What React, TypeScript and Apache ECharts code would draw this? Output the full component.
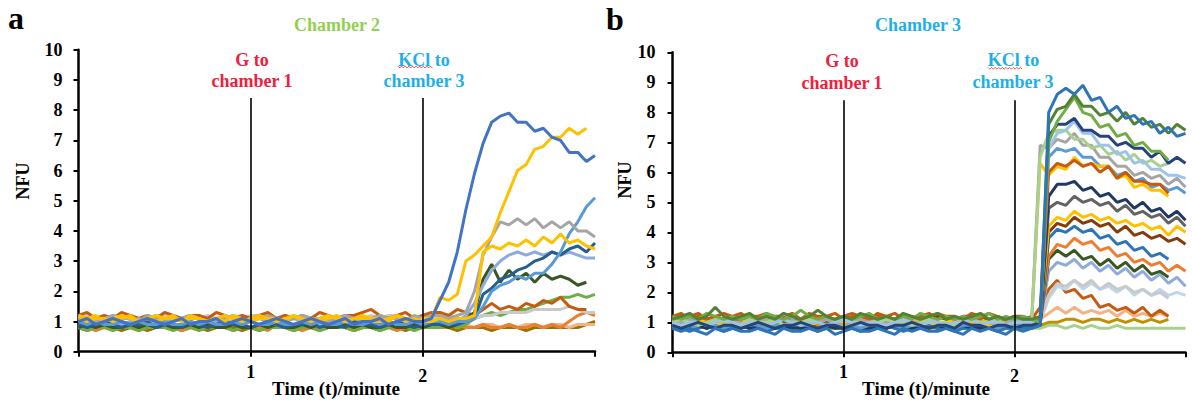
import React, { useEffect, useRef } from 'react';
import * as echarts from 'echarts';

// ---------- shared time axis (minutes) ----------
const TIME = [
  0, 0.05, 0.1, 0.15, 0.2, 0.25, 0.3, 0.35, 0.4, 0.45, 0.5, 0.55, 0.6, 0.65, 0.7, 0.75, 0.8, 0.85, 0.9, 0.95,
  1, 1.05, 1.1, 1.15, 1.2, 1.25, 1.3, 1.35, 1.4, 1.45, 1.5, 1.55, 1.6, 1.65, 1.7, 1.75, 1.8, 1.85, 1.9, 1.95,
  2, 2.05, 2.1, 2.15, 2.2, 2.25, 2.3, 2.35, 2.4, 2.45, 2.5, 2.55, 2.6, 2.65, 2.7, 2.75, 2.8, 2.85, 2.9, 2.95, 3,
];

const X_TICK_LABELS = [1, 2];
const EVENT_TIMES = [1, 2];
const EVENT_LINE_TOP = 8.4;

// ---------- Panel a : Chamber 2 ----------
const A_DKYELLOW = [
  0.8,0.7,0.8,0.8,0.8,0.7,0.8,0.8,0.7,0.8, 0.8,0.8,0.7,0.8,0.8,0.7,0.8,0.8,0.8,0.7,
  0.8,0.7,0.8,0.8,0.8,0.7,0.8,0.8,0.7,0.8, 0.8,0.8,0.7,0.8,0.8,0.7,0.8,0.8,0.7,0.8, 0.8,0.8,
  0.8,0.8,0.7,0.8,0.8,0.8,0.7,0.8,0.8,0.8, 0.7,0.8,0.8,0.8,0.8,0.8,0.8,0.9,1.0,
];
const A_PEACH = [
  0.9,0.8,0.9,0.9,0.8,0.9,0.8,0.9,0.9,0.8, 0.9,0.9,0.8,0.9,0.8,0.9,0.9,0.8,0.9,0.9,
  0.8,0.9,0.8,0.9,0.9,0.8,0.9,0.9,0.8,0.9, 0.8,0.9,0.9,0.8,0.9,0.9,0.8,0.9,0.8,0.9, 0.9,0.8,
  0.9,0.8,0.9,0.9,0.8,0.9,0.9,0.8,0.9,0.8, 0.9,0.9,0.8,0.9,0.9,0.8,0.9,0.9,0.9,
];
const A_ORANGE = [
  0.8,0.8,0.7,0.8,0.9,0.8,0.8,0.7,0.8,0.8, 0.9,0.8,0.7,0.8,0.8,0.8,0.9,0.8,0.7,0.8,
  0.8,0.8,0.7,0.9,0.8,0.8,0.7,0.8,0.8,0.9, 0.8,0.8,0.7,0.8,0.8,0.9,0.8,0.7,0.8,0.8, 0.8,0.8,
  0.8,0.8,0.9,0.8,0.8,0.9,0.8,0.8,0.9,0.8, 0.8,0.9,0.8,0.9,0.8,1.0,1.2,1.3,1.2,
];
const A_GREEN = [
  0.8,0.7,0.8,0.8,0.7,0.8,0.8,0.7,0.8,0.8, 0.8,0.7,0.8,0.8,0.7,0.8,0.8,0.8,0.7,0.8,
  0.8,0.7,0.8,0.8,0.8,0.7,0.8,0.8,0.7,0.8, 0.8,0.8,0.7,0.8,0.8,0.7,0.8,0.8,0.8,0.7, 0.8,0.8,
  0.8,0.9,0.8,0.9,1.1,1.2,1.3,1.2,1.3,1.4, 1.4,1.5,1.6,1.7,1.8,1.8,1.9,1.8,1.9,
];
const A_LTGRAY = [
  1.1,1.2,1.1,1.1,1.2,1.1,1.2,1.1,1.1,1.2, 1.2,1.1,1.1,1.2,1.1,1.2,1.1,1.1,1.2,1.1,
  1.2,1.2,1.1,1.1,1.2,1.1,1.2,1.1,1.1,1.2, 1.1,1.2,1.1,1.1,1.2,1.1,1.2,1.2,1.1,1.1, 1.2,1.1,
  1.1,1.2,1.1,1.1,1.1,1.2,1.2,1.3,1.3,1.3, 1.3,1.4,1.4,1.4,1.4,1.5,1.4,1.3,1.3,
];
const A_BROWN = [
  1.2,1.3,1.1,1.2,1.1,1.3,1.2,1.1,1.2,1.1, 1.3,1.2,1.1,1.2,1.2,1.1,1.3,1.2,1.1,1.2,
  1.1,1.2,1.3,1.1,1.2,1.1,1.2,1.1,1.3,1.2, 1.1,1.2,1.2,1.3,1.4,1.2,1.1,1.2,1.3,1.1, 1.2,1.3,
  1.3,1.2,1.4,1.3,1.2,1.4,1.6,1.4,1.5,1.4, 1.6,1.5,1.7,1.6,1.8,1.5,1.4,1.4,
];
const A_DKGREEN = [
  0.8,0.9,0.8,0.9,0.8,0.8,0.9,0.8,0.9,0.8, 0.9,0.8,0.8,0.9,0.8,0.9,0.8,0.8,0.9,0.8,
  0.8,0.9,0.8,0.9,0.8,0.8,0.9,0.8,0.9,0.8, 0.8,0.9,0.8,0.9,0.8,0.8,0.9,0.8,0.8,0.9, 0.8,0.9,
  0.9,0.8,0.9,1.1,1.3,2.4,2.9,2.3,2.7,2.4, 2.6,2.3,2.6,2.4,2.5,2.4,2.2,2.3,
];
const A_PERIWINKLE = [
  1.0,1.0,0.9,1.1,1.0,0.9,1.0,1.1,1.0,1.0, 0.9,1.0,1.1,1.0,0.9,1.0,1.0,1.1,0.9,1.0,
  1.0,1.1,1.0,0.9,1.0,1.1,1.0,1.0,0.9,1.0, 1.1,1.0,0.9,1.0,1.0,1.1,1.0,0.9,1.0,1.1, 1.0,1.0,
  1.0,1.1,1.0,1.2,1.6,2.2,2.7,3.0,3.2,3.3, 3.2,3.3,3.2,3.3,3.2,3.3,3.2,3.1,3.1,
];
const A_DKBLUE = [
  0.9,0.8,0.9,1.0,0.9,0.8,0.9,0.9,1.0,0.8, 0.9,0.9,0.8,1.0,0.9,0.8,0.9,1.0,0.9,0.9,
  0.8,0.9,1.0,0.9,0.8,0.9,0.9,1.0,0.8,0.9, 0.9,0.8,1.0,0.9,0.9,0.8,0.9,1.0,0.9,0.8, 0.9,0.9,
  0.9,1.0,0.9,1.0,1.1,1.9,2.1,2.4,2.5,2.7, 2.8,3.0,3.1,3.3,3.2,3.4,3.5,3.3,3.6,
];
const A_LTBLUE = [
  1.0,0.9,1.0,0.9,0.9,1.0,0.9,1.0,0.9,0.9, 1.0,0.9,0.9,1.0,0.9,1.0,0.9,0.9,1.0,0.9,
  1.0,0.9,0.9,1.0,0.9,0.9,1.0,0.9,1.0,0.9, 0.9,1.0,0.9,0.9,1.0,0.9,1.0,0.9,0.9,1.0, 0.9,1.0,
  1.0,0.9,1.0,1.0,1.1,1.5,2.0,2.2,2.3,2.5, 2.4,2.6,2.6,2.9,3.3,3.9,4.3,4.8,5.1,
];
const A_GRAY = [
  1.2,1.1,1.0,1.1,1.2,1.1,1.1,1.0,1.2,1.1, 1.1,1.0,1.1,1.2,1.1,1.0,1.1,1.1,1.2,1.0,
  1.1,1.1,1.2,1.1,1.0,1.1,1.2,1.1,1.1,1.0, 1.1,1.2,1.1,1.0,1.1,1.2,1.1,1.1,1.0,1.2, 1.1,1.2,
  1.2,1.1,1.2,1.3,2.0,3.2,3.8,4.3,4.2,4.4, 4.2,4.4,4.1,4.3,4.1,4.3,4.0,4.0,3.8,
];
const A_YELLOW_B = [
  1.1,1.0,1.1,1.1,1.0,1.1,1.2,1.0,1.1,1.0, 1.1,1.2,1.0,1.1,1.1,1.0,1.1,1.0,1.2,1.1,
  1.0,1.1,1.1,1.0,1.1,1.2,1.0,1.1,1.0,1.1, 1.2,1.0,1.1,1.1,1.0,1.0,1.1,1.2,1.0,1.1, 1.0,1.0,
  1.1,1.0,1.1,1.1,1.2,3.3,3.5,3.4,3.6,3.5, 3.7,3.5,3.8,3.6,3.9,3.6,3.7,3.5,3.4,
];
const A_YELLOW_A = [
  1.2,1.1,1.2,1.0,1.1,1.2,1.1,1.0,1.1,1.2, 1.1,1.1,1.0,1.2,1.1,1.0,1.1,1.2,1.1,1.0,
  1.1,1.2,1.1,1.1,1.0,1.2,1.1,1.0,1.1,1.2, 1.1,1.0,1.1,1.2,1.1,1.1,1.0,1.2,1.1,1.0, 1.1,1.1,
  1.8,1.7,1.9,3.0,3.2,3.5,3.8,4.6,5.3,6.0, 6.2,6.7,6.8,7.1,7.1,7.4,7.2,7.4,
];
const A_BLUE = [
  1.0,1.1,0.9,1.0,1.1,1.0,0.9,1.0,1.1,1.0, 0.9,1.0,1.1,0.9,1.0,1.0,1.1,0.9,1.0,1.1,
  1.0,0.9,1.0,1.1,1.0,0.9,1.0,1.1,1.0,0.9, 1.0,1.1,0.9,1.0,1.0,1.1,0.9,1.0,1.1,1.0, 1.0,1.1,
  1.7,2.3,3.3,4.7,5.9,6.9,7.6,7.8,7.9,7.6, 7.6,7.3,7.4,7.1,7.0,6.6,6.6,6.3,6.5,
];

const A_VALUES = [
  A_DKYELLOW, A_PEACH, A_ORANGE, A_GREEN, A_LTGRAY, A_BROWN, A_DKGREEN,
  A_PERIWINKLE, A_DKBLUE, A_LTBLUE, A_GRAY, A_YELLOW_B, A_YELLOW_A, A_BLUE,
];
const A_COLORS = [
  '#997300', '#F4B183', '#ED7D31', '#70AD47', '#C9C9C9', '#C55A11', '#385723',
  '#8FAADC', '#255E91', '#5B9BD5', '#A5A5A5', '#FFC000', '#FFC000', '#4472C4',
];

// ---------- Panel b : Chamber 3 ----------
const B_LTGREEN2 = [
  0.9,0.8,0.8,0.9,0.8,0.9,0.9,0.8,0.8,0.9, 0.8,0.9,0.8,0.8,0.9,0.9,0.8,0.8,0.9,0.8,
  0.9,0.8,0.8,0.9,0.8,0.9,0.9,0.8,0.8,0.9, 0.8,0.8,0.9,0.8,0.9,0.8,0.8,0.9,0.9,0.8, 0.8,0.8,
  0.8,0.8,0.9,0.9,0.8,0.9,0.8,0.9,0.8,0.8, 0.9,0.8,0.8,0.8,0.8,0.8,0.8,0.8,0.8,
];
const B_OLIVE = [
  0.8,0.9,0.8,0.8,0.9,0.8,0.9,0.8,0.8,0.9, 0.8,0.8,0.9,0.8,0.9,0.8,0.8,0.9,0.8,0.8,
  0.9,0.8,0.9,0.8,0.8,0.9,0.8,0.8,0.9,0.8, 0.9,0.8,0.8,0.9,0.8,0.8,0.9,0.8,0.9,0.8, 0.8,0.9,
  0.9,0.9,1.0,1.0,1.1,1.1,1.0,1.1,1.1,1.0, 1.1,1.0,1.1,1.0,1.1,1.0,1.1,
];
const B_PEACH = [
  1.0,0.9,0.9,1.0,0.9,1.0,0.9,0.9,1.0,0.9, 1.0,0.9,0.9,1.0,0.9,0.9,1.0,0.9,1.0,0.9,
  0.9,1.0,0.9,0.9,1.0,0.9,1.0,0.9,0.9,1.0, 0.9,0.9,1.0,0.9,1.0,0.9,0.9,1.0,0.9,0.9, 1.0,0.9,
  0.9,1.1,1.3,1.5,1.3,1.5,1.3,1.4,1.3,1.4, 1.2,1.4,1.2,1.3,1.2,1.3,1.2,
];
const B_RUST2 = [
  1.2,1.1,1.2,1.3,1.1,1.2,1.1,1.2,1.3,1.1, 1.2,1.1,1.2,1.2,1.3,1.1,1.2,1.1,1.2,1.3,
  1.1,1.2,1.2,1.1,1.3,1.2,1.1,1.2,1.1,1.2, 1.3,1.1,1.2,1.2,1.1,1.3,1.2,1.1,1.2,1.1, 1.2,1.2,
  1.1,1.5,2.1,2.4,2.0,2.1,1.8,1.9,1.5,1.6, 1.4,1.5,1.3,1.5,1.2,1.4,1.2,
];
const B_PALEBLUE = [
  0.9,1.0,1.0,0.9,1.0,1.0,0.9,1.0,1.1,1.0, 0.9,1.0,1.0,0.9,1.0,1.1,1.0,0.9,1.0,1.0,
  0.9,1.0,1.0,1.1,0.9,1.0,1.0,0.9,1.0,1.0, 1.1,0.9,1.0,1.0,0.9,1.0,1.0,1.1,0.9,1.0, 1.0,0.9,
  1.0,1.0,1.8,2.2,2.1,2.4,2.1,2.3,2.1,2.2, 2.0,2.2,1.9,2.1,1.9,2.1,1.9,2.0,1.9,
];
const B_LTGRAY = [
  1.0,1.0,0.9,1.0,1.1,1.0,0.9,1.0,1.0,1.1, 1.0,0.9,1.0,1.1,1.0,1.0,0.9,1.0,1.1,1.0,
  1.0,1.0,0.9,1.1,1.0,1.0,0.9,1.0,1.1,1.0, 1.0,0.9,1.0,1.0,1.1,1.0,0.9,1.0,1.0,1.1, 1.0,1.0,
  1.0,1.0,1.9,2.3,2.2,2.4,2.2,2.4,2.1,2.3, 2.1,2.2,2.0,2.1,1.9,2.0,1.8,
];
const B_BLUEGRAY = [
  1.0,0.9,1.0,1.0,0.9,1.0,1.0,1.1,0.9,1.0, 1.0,0.9,1.0,1.0,1.1,0.9,1.0,1.0,0.9,1.0,
  1.1,1.0,0.9,1.0,1.0,0.9,1.0,1.1,1.0,0.9, 1.0,1.0,0.9,1.0,1.1,1.0,0.9,1.0,1.0,0.9, 1.0,1.0,
  1.0,1.0,2.7,3.0,2.9,3.1,2.8,3.0,2.7,2.9, 2.6,2.8,2.5,2.7,2.4,2.6,2.3,2.5,2.2,
];
const B_DKGREEN2 = [
  0.9,1.0,0.9,0.9,0.8,0.9,1.0,0.9,0.9,0.8, 0.9,1.0,0.9,0.9,0.9,0.8,1.0,0.9,0.9,0.9,
  0.8,0.9,1.0,0.9,0.9,0.8,0.9,0.9,1.0,0.9, 0.9,0.8,0.9,1.0,0.9,0.9,0.8,0.9,0.9,1.0, 0.9,0.9,
  0.9,1.0,3.1,3.4,3.2,3.4,3.1,3.2,2.9,3.1, 2.8,3.0,2.7,2.9,2.6,2.7,2.5,
];
const B_ORANGE = [
  1.0,1.1,0.9,1.0,1.0,1.1,1.0,0.9,1.0,1.1, 1.0,1.0,0.9,1.1,1.0,1.0,1.1,0.9,1.0,1.0,
  1.1,1.0,0.9,1.0,1.1,1.0,1.0,0.9,1.0,1.1, 1.0,0.9,1.0,1.0,1.1,1.0,1.0,0.9,1.1,1.0, 1.0,1.0,
  1.0,1.1,3.2,3.6,3.5,3.8,3.6,3.7,3.4,3.5, 3.2,3.3,3.0,3.1,2.9,3.0,2.7,2.9,2.7,
];
const B_STEEL2 = [
  0.8,0.8,0.7,0.8,0.9,0.8,0.7,0.8,0.8,0.9, 0.8,0.7,0.8,0.8,0.9,0.8,0.8,0.7,0.8,0.9,
  0.8,0.8,0.7,0.8,0.8,0.9,0.8,0.7,0.8,0.8, 0.9,0.8,0.8,0.7,0.8,0.8,0.9,0.8,0.7,0.8, 0.8,0.8,
  0.8,0.9,3.8,4.1,4.0,4.2,4.0,4.1,3.8,3.9, 3.6,3.7,3.4,3.5,3.2,3.3,3.1,
];
const B_BROWN = [
  1.1,1.2,1.1,1.0,1.1,1.2,1.1,1.1,1.0,1.2, 1.1,1.1,1.2,1.0,1.1,1.1,1.2,1.1,1.0,1.1,
  1.2,1.1,1.1,1.0,1.2,1.1,1.1,1.2,1.0,1.1, 1.1,1.2,1.1,1.0,1.1,1.2,1.1,1.1,1.0,1.1, 1.2,1.1,
  1.1,1.0,4.0,4.3,4.2,4.5,4.3,4.4,4.2,4.3, 4.0,4.2,3.9,4.0,3.8,3.9,3.7,3.8,3.6,
];
const B_YELLOW2 = [
  1.1,1.0,1.1,1.0,1.0,1.1,1.1,1.0,1.1,1.0, 1.1,1.1,1.0,1.0,1.1,1.0,1.1,1.1,1.0,1.1,
  1.0,1.0,1.1,1.1,1.0,1.1,1.0,1.1,1.0,1.1, 1.1,1.0,1.0,1.1,1.0,1.1,1.1,1.0,1.1,1.0, 1.1,1.0,
  1.0,1.1,4.2,4.5,4.4,4.7,4.5,4.6,4.4,4.5, 4.3,4.4,4.2,4.3,4.1,4.2,3.9,4.2,4.0,
];
const B_DKGRAY = [
  1.0,0.9,1.0,1.1,1.0,1.0,0.9,1.0,1.1,1.0, 1.0,0.9,1.0,1.0,1.1,1.0,0.9,1.0,1.0,1.1,
  1.0,1.0,0.9,1.0,1.1,1.0,1.0,0.9,1.0,1.0, 1.1,1.0,0.9,1.0,1.0,1.1,1.0,0.9,1.0,1.1, 1.0,1.0,
  1.0,1.0,4.8,5.0,4.9,5.2,5.0,5.1,4.9,5.0, 4.7,4.9,4.6,4.7,4.5,4.6,4.3,4.5,4.2,
];
const B_NAVY2 = [
  0.9,0.8,0.8,0.9,0.8,0.9,0.8,0.8,0.9,0.8, 0.8,0.9,0.8,0.9,0.8,0.8,0.9,0.8,0.9,0.8,
  0.8,0.9,0.8,0.8,0.9,0.8,0.9,0.8,0.8,0.9, 0.8,0.9,0.8,0.8,0.9,0.8,0.8,0.9,0.8,0.9, 0.8,0.9,
  0.9,0.9,5.2,5.6,5.6,5.7,5.4,5.5,5.2,5.3, 5.0,5.1,4.8,5.0,4.7,4.8,4.5,4.7,4.4,
];
const B_MIDBLUE = [
  0.9,0.9,0.8,0.9,1.0,0.9,0.8,0.9,0.9,1.0, 0.9,0.8,0.9,0.9,1.0,0.9,0.9,0.8,0.9,1.0,
  0.9,0.9,0.8,0.9,0.9,1.0,0.9,0.8,0.9,0.9, 1.0,0.9,0.9,0.8,0.9,0.9,1.0,0.9,0.8,0.9, 0.9,0.9,
  0.9,1.0,6.5,6.8,6.7,6.8,6.5,6.5,6.2,6.2, 5.9,6.0,5.7,5.8,5.5,5.6,5.4,5.5,5.3,
];
const B_YELLOW = [
  1.0,0.9,1.0,1.0,1.1,1.0,0.9,1.0,1.0,1.1, 1.0,0.9,1.0,1.1,1.0,1.0,0.9,1.0,1.1,1.0,
  1.0,0.9,1.0,1.0,1.1,1.0,0.9,1.0,1.0,1.1, 1.0,0.9,1.0,1.0,1.1,1.0,1.0,0.9,1.0,1.0, 1.1,1.0,
  1.0,6.3,5.9,6.2,6.1,6.5,6.2,6.3,6.2,6.2, 5.8,5.9,5.5,5.6,5.4,5.4,5.2,
];
const B_RUST = [
  1.2,1.3,1.1,1.2,1.1,1.2,1.3,1.2,1.1,1.2, 1.2,1.3,1.1,1.2,1.2,1.1,1.3,1.2,1.2,1.1,
  1.2,1.3,1.2,1.1,1.2,1.2,1.3,1.1,1.2,1.1, 1.2,1.3,1.2,1.1,1.2,1.2,1.1,1.3,1.2,1.1, 1.2,1.1,
  1.2,1.1,6.0,6.3,6.2,6.4,6.2,6.3,6.0,6.2, 5.8,6.0,5.7,5.7,5.6,5.6,5.3,
];
const B_GRAY = [
  1.0,1.0,1.1,1.0,0.9,1.0,1.1,1.0,1.0,0.9, 1.0,1.1,1.0,1.3,1.1,0.9,1.0,1.0,1.1,1.0,
  0.9,1.0,1.1,1.0,1.0,1.0,0.9,1.1,1.0,1.0, 1.1,1.0,0.9,1.0,1.0,1.1,1.0,1.0,0.9,1.0, 1.1,1.0,
  1.0,6.9,6.8,7.1,7.0,7.3,6.9,6.9,6.5,6.5, 6.2,6.2,5.9,6.0,5.8,5.9,5.6,5.8,5.5,
];
const B_LTGREEN = [
  1.0,1.1,1.0,0.9,1.0,1.1,1.0,1.0,0.9,1.1, 1.0,1.0,1.1,0.9,1.0,1.0,1.1,1.0,0.9,1.0,
  1.1,1.0,1.0,0.9,1.0,1.1,1.0,1.0,0.9,1.0, 1.1,1.0,1.0,0.9,1.0,1.1,1.0,1.0,1.1,0.9, 1.0,1.0,
  1.0,6.5,7.3,7.4,7.4,7.1,7.1,6.8,6.9,6.6, 6.7,6.4,6.6,6.3,6.4,6.2,6.3,
];
const B_LTBLUE = [
  1.0,0.9,1.0,1.0,0.9,1.0,1.1,1.0,0.9,1.0, 1.0,0.9,1.0,1.1,1.0,0.9,1.0,1.0,0.9,1.0,
  1.1,1.0,0.9,1.0,1.0,0.9,1.0,1.1,1.0,0.9, 1.0,1.0,0.9,1.0,1.0,1.1,0.9,1.0,1.0,0.9, 1.0,1.0,
  1.0,1.0,6.8,7.3,7.4,7.7,7.3,7.3,6.9,6.9, 6.6,6.7,6.3,6.4,6.1,6.1,5.9,5.9,5.8,
];
const B_NAVY = [
  0.9,0.8,0.9,1.0,0.9,0.8,0.9,0.9,0.8,0.9, 1.0,0.9,0.8,0.9,0.9,1.0,0.9,0.8,0.9,0.9,
  0.8,0.9,1.0,0.9,0.9,0.8,0.9,0.9,1.0,0.9, 0.8,0.9,0.9,0.8,1.0,0.9,0.9,0.8,0.9,0.9, 0.8,0.9,
  0.9,1.0,7.2,7.6,7.6,7.8,7.4,7.4,7.2,7.2, 6.9,7.0,6.8,6.8,6.5,6.7,6.3,6.5,6.3,
];
const B_GREEN = [
  1.2,1.1,1.2,1.1,1.3,1.2,1.1,1.2,1.1,1.2, 1.1,1.3,1.2,1.1,1.2,1.4,1.2,1.1,1.2,1.1,
  1.2,1.1,1.2,1.3,1.1,1.2,1.1,1.2,1.1,1.3, 1.2,1.1,1.2,1.1,1.2,1.1,1.2,1.3,1.1,1.2, 1.1,1.2,
  1.1,1.0,7.0,7.7,8.1,8.5,8.0,7.9,7.5,7.6, 7.2,7.3,6.9,7.0,6.7,6.7,6.4,
];
const B_DKGREEN = [
  1.1,1.2,1.3,1.1,1.2,1.5,1.2,1.1,1.2,1.3, 1.1,1.2,1.1,1.3,1.2,1.1,1.2,1.4,1.2,1.1,
  1.2,1.1,1.3,1.2,1.1,1.2,1.1,1.3,1.2,1.1, 1.2,1.3,1.1,1.2,1.1,1.2,1.3,1.1,1.2,1.1, 1.2,1.1,
  1.1,1.2,7.6,8.1,8.2,8.6,8.2,8.2,7.9,8.0, 7.7,8.0,7.6,7.8,7.5,7.6,7.3,7.6,7.4,
];
const B_STEEL = [
  0.8,0.7,0.8,0.7,0.6,0.8,0.7,0.8,0.7,0.7, 0.8,0.7,0.6,0.8,0.7,0.7,0.8,0.7,0.8,0.6,
  0.7,0.8,0.7,0.7,0.8,0.7,0.6,0.8,0.7,0.8, 0.7,0.7,0.8,0.7,0.6,0.8,0.7,0.8,0.7,0.6, 0.8,0.7,
  0.8,0.9,8.0,8.6,8.8,8.6,8.9,8.4,8.5,8.0, 8.2,7.8,7.9,7.6,7.7,7.3,7.5,7.2,7.3,
];

const B_VALUES = [
  B_LTGREEN2, B_OLIVE, B_PEACH, B_RUST2, B_PALEBLUE, B_LTGRAY, B_BLUEGRAY, B_DKGREEN2,
  B_ORANGE, B_STEEL2, B_BROWN, B_YELLOW2, B_DKGRAY, B_NAVY2, B_MIDBLUE, B_YELLOW,
  B_RUST, B_GRAY, B_LTGREEN, B_LTBLUE, B_NAVY, B_GREEN, B_DKGREEN, B_STEEL,
];
const B_COLORS = [
  '#A9D18E', '#BF9000', '#F4B183', '#C55A11', '#BDD7EE', '#C9C9C9', '#8FAADC', '#385723',
  '#ED7D31', '#2E75B6', '#843C0C', '#FFC000', '#636363', '#203864', '#5B9BD5', '#FFC000',
  '#C55A11', '#A5A5A5', '#A9D18E', '#9DC3E6', '#264478', '#70AD47', '#548235', '#2E75B6',
];

// ---------- styling ----------
const FONT = '"Liberation Serif", "Times New Roman", serif';
const RED = '#F0203C';
const CYAN = '#1EAFEA';
const LIME = '#92D050';

function toPoints(vals: number[]) {
  return vals.map((v, i) => [TIME[i], v]);
}

function lineSeries(values: number[][], colors: string[], axis: number) {
  return values.map((vals, k) => ({
    type: 'line',
    xAxisIndex: axis,
    yAxisIndex: axis,
    data: toPoints(vals),
    showSymbol: false,
    symbol: 'none',
    silent: true,
    z: 2,
    lineStyle: { width: 3, color: colors[k] },
    itemStyle: { color: colors[k] },
  }));
}

function eventSeries(axis: number) {
  return {
    type: 'line',
    xAxisIndex: axis,
    yAxisIndex: axis,
    data: [],
    silent: true,
    z: 5,
    markLine: {
      silent: true,
      symbol: ['none', 'none'],
      label: { show: false },
      lineStyle: { color: '#000', width: 1.6, type: 'solid' },
      data: EVENT_TIMES.map((t) => [{ coord: [t, 0] }, { coord: [t, EVENT_LINE_TOP] }]),
    },
  };
}

function xAxis(gridIndex: number) {
  return {
    type: 'value',
    gridIndex,
    min: 0,
    max: 3,
    interval: 1,
    axisLine: { show: true, onZero: false, lineStyle: { color: '#000', width: 2.5 } },
    axisTick: { show: true, inside: false, length: 5, lineStyle: { color: '#000', width: 2 } },
    splitLine: { show: false },
    axisLabel: {
      margin: 11,
      formatter: (v: number) => {
        if (!X_TICK_LABELS.includes(v)) return '';
        return v === 2 ? '{b|' + v + '}' : '{a|' + v + '}';
      },
      rich: {
        a: { fontSize: 18, fontWeight: 'bold', fontFamily: FONT, color: '#000' },
        b: { fontSize: 18, fontWeight: 'bold', fontFamily: FONT, color: '#000', padding: [4, 0, 0, 0] },
      },
    },
  };
}

function yAxis(gridIndex: number, margin: number) {
  return {
    type: 'value',
    gridIndex,
    min: 0,
    max: 10,
    interval: 1,
    axisLine: { show: true, lineStyle: { color: '#000', width: 2.5 } },
    axisTick: { show: true, inside: false, length: 5, lineStyle: { color: '#000', width: 2 } },
    splitLine: { show: false },
    axisLabel: { margin, color: '#000', fontSize: 18, fontWeight: 'bold', fontFamily: FONT },
  };
}

function txt(text: string, x: number, y: number, color: string, size: number, rotation = 0) {
  return {
    type: 'text',
    x,
    y,
    rotation,
    silent: true,
    z: 100,
    style: {
      text,
      x: 0,
      y: 0,
      fill: color,
      font: `bold ${size}px ${FONT}`,
      textAlign: 'center',
      textVerticalAlign: 'middle',
      align: 'center',
      verticalAlign: 'middle',
    },
  };
}

function squiggle(x0: number, x1: number, y: number) {
  const pts: number[][] = [];
  let up = true;
  for (let x = x0; x <= x1; x += 1.8) {
    pts.push([x, up ? y - 0.9 : y + 0.9]);
    up = !up;
  }
  return {
    type: 'polyline',
    silent: true,
    z: 100,
    shape: { points: pts },
    style: { stroke: '#E0242B', lineWidth: 0.8, fill: null },
  };
}

export default function App() {
  const ref = useRef<HTMLDivElement>(null);

  useEffect(() => {
    if (!ref.current) return;
    const chart = echarts.init(ref.current, undefined, { renderer: 'svg' });
    const option = {
      animation: false,
      backgroundColor: '#ffffff',
      grid: [
        { left: 78.5, top: 49.7, width: 516.5, height: 302 },
        { left: 672.5, top: 52.3, width: 513, height: 300 },
      ],
      xAxis: [xAxis(0), xAxis(1)],
      yAxis: [yAxis(0, 16), yAxis(1, 17)],
      series: [
        ...lineSeries(A_VALUES, A_COLORS, 0),
        eventSeries(0),
        ...lineSeries(B_VALUES, B_COLORS, 1),
        eventSeries(1),
      ],
      graphic: [
        txt('a', 16, 18, '#000', 32),
        txt('Chamber 2', 337, 25, LIME, 18),
        txt('G to', 252, 59.5, RED, 18),
        txt('chamber 1', 252, 81, RED, 18),
        txt('KCl to', 424, 59.5, CYAN, 18),
        txt('chamber 3', 424, 81, CYAN, 18),
        squiggle(398, 433, 67),
        txt('NFU', 23, 181, '#000', 18, Math.PI / 2),
        txt('Time (t)/minute', 336, 388, '#000', 19),

        txt('b', 615, 19, '#000', 32),
        txt('Chamber 3', 918, 25, CYAN, 18),
        txt('G to', 842, 61, RED, 18),
        txt('chamber 1', 842, 82.7, RED, 18),
        txt('KCl to', 1013.5, 60, CYAN, 18),
        txt('chamber 3', 1013, 81.7, CYAN, 18),
        squiggle(988, 1023, 68.3),
        txt('NFU', 624.5, 180, '#000', 18, Math.PI / 2),
        txt('Time (t)/minute', 926, 388, '#000', 19),
      ],
    };
    chart.setOption(option as any);
    return () => {
      chart.dispose();
    };
  }, []);

  return (
    <div
      ref={ref}
      style={{ position: 'absolute', left: 0, top: 0, width: 1192, height: 403, background: '#fff' }}
    />
  );
}
